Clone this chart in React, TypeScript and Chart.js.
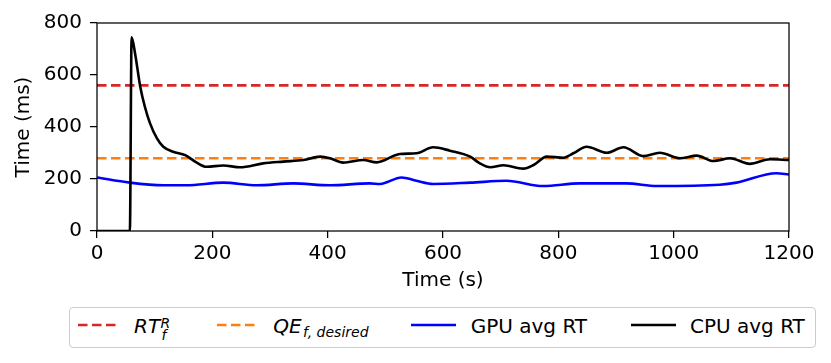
import React, { useEffect, useRef } from "react";
import { Chart, registerables } from "chart.js";

Chart.register(...registerables);

// ---- data ----
const RT_THRESHOLD = 560; // RT_f^R
const QE_DESIRED = 280; // QE_{f,desired}

const X_MIN = 0;
const X_MAX = 1200;
const X_STEP = 200;
const Y_MIN = 0;
const Y_MAX = 800;
const Y_STEP = 200;

const cpuTimes = [
  0, 57, 60, 66, 75, 83, 92, 104, 115, 132, 153, 173, 190, 219, 248, 288, 323,
  358, 387, 404, 427, 462, 485, 525, 554, 583, 612, 647, 664, 682, 705, 739,
  757, 780, 809, 826, 849, 884, 913, 947, 976, 1011, 1040, 1069, 1098, 1132,
  1167, 1200,
];
const cpuValues = [
  0, 0, 745, 683, 555, 478, 414, 356, 324, 305, 292, 263, 247, 252, 245, 260,
  267, 273, 286, 280, 263, 273, 264, 296, 299, 322, 309, 286, 260, 245, 253,
  240, 254, 286, 282, 299, 324, 301, 322, 288, 301, 280, 290, 269, 280, 258,
  276, 273,
];

const gpuTimes = [
  0, 57, 115, 155, 219, 277, 340, 404, 473, 491, 528, 554, 583, 647, 710, 774,
  837, 918, 971, 1080, 1109, 1178, 1200,
];
const gpuValues = [
  206, 186, 176, 176, 186, 176, 183, 176, 183, 181, 206, 193, 181, 186, 193,
  173, 183, 183, 173, 178, 186, 222, 217,
];

const X_TITLE = "Time (s)";
const Y_TITLE = "Time (ms)";

const FONT_FAMILY = "'DejaVu Sans', 'Liberation Sans', sans-serif";

const framePlugin = {
  id: "frame",
  afterDraw(chart: any) {
    const { ctx, chartArea } = chart;
    ctx.save();
    ctx.strokeStyle = "#000";
    ctx.lineWidth = 1.25;
    ctx.strokeRect(
      chartArea.left,
      chartArea.top,
      chartArea.right - chartArea.left,
      chartArea.bottom - chartArea.top
    );
    ctx.restore();
  },
};

function toPoints(xs: number[], ys: number[]) {
  return xs.map((x, i) => ({ x, y: ys[i] }));
}

const LegendLine = ({
  left,
  width,
  color,
  dash,
}: {
  left: number;
  width: number;
  color: string;
  dash?: string;
}) => (
  <svg
    width={width}
    height={6}
    style={{ position: "absolute", left, top: 14.3 }}
  >
    <line
      x1={0}
      y1={3}
      x2={width}
      y2={3}
      stroke={color}
      strokeWidth={2.6}
      strokeDasharray={dash}
    />
  </svg>
);

const txt = (
  left: number,
  baseline: number,
  size: number,
  italic: boolean,
  content: string
) => (
  <span
    style={{
      position: "absolute",
      left,
      top: baseline - 0.846 * size,
      fontSize: size,
      lineHeight: `${size}px`,
      fontStyle: italic ? "italic" : "normal",
      whiteSpace: "pre",
      color: "#000",
    }}
  >
    {content}
  </span>
);

export default function App() {
  const canvasRef = useRef<HTMLCanvasElement | null>(null);

  useEffect(() => {
    if (!canvasRef.current) return;
    const font = { family: FONT_FAMILY, size: 20 };
    const chart = new Chart(canvasRef.current, {
      type: "line",
      data: {
        datasets: [
          {
            label: "CPU avg RT",
            data: toPoints(cpuTimes, cpuValues),
            borderColor: "#000000",
            borderWidth: 2.6,
            pointRadius: 0,
            cubicInterpolationMode: "monotone",
            fill: false,
          },
          {
            label: "GPU avg RT",
            data: toPoints(gpuTimes, gpuValues),
            borderColor: "#0000ff",
            borderWidth: 2.6,
            pointRadius: 0,
            cubicInterpolationMode: "monotone",
            fill: false,
          },
          {
            label: "QE",
            data: [
              { x: X_MIN, y: QE_DESIRED },
              { x: X_MAX, y: QE_DESIRED },
            ],
            borderColor: "#ff7f0e",
            borderWidth: 2.6,
            borderDash: [9.5, 4.5],
            pointRadius: 0,
            fill: false,
          },
          {
            label: "RT",
            data: [
              { x: X_MIN, y: RT_THRESHOLD },
              { x: X_MAX, y: RT_THRESHOLD },
            ],
            borderColor: "#d62728",
            borderWidth: 2.6,
            borderDash: [9.5, 4.5],
            pointRadius: 0,
            fill: false,
          },
        ],
      },
      options: {
        animation: false,
        responsive: true,
        maintainAspectRatio: false,
        layout: { padding: { left: 12, top: 23, right: 42, bottom: 70 } },
        plugins: {
          legend: { display: false },
          tooltip: { enabled: false },
        },
        scales: {
          x: {
            type: "linear",
            min: X_MIN,
            max: X_MAX,
            ticks: {
              stepSize: X_STEP,
              color: "#000",
              font,
              padding: 4,
              maxRotation: 0,
              autoSkip: false,
              callback: (v: any) => String(v),
            },
            grid: {
              drawOnChartArea: false,
              drawTicks: true,
              tickLength: 7,
              color: "#000",
              lineWidth: 1.25,
            },
            border: { display: false },
            title: {
              display: true,
              text: X_TITLE,
              color: "#000",
              font,
              padding: 0,
            },
            afterFit: (s: any) => {
              s.height = 62;
            },
          },
          y: {
            type: "linear",
            min: Y_MIN,
            max: Y_MAX,
            ticks: {
              stepSize: Y_STEP,
              color: "#000",
              font,
              padding: 8,
              callback: (v: any) => String(v),
            },
            grid: {
              drawOnChartArea: false,
              drawTicks: true,
              tickLength: 7,
              color: "#000",
              lineWidth: 1.25,
            },
            border: { display: false },
            title: {
              display: true,
              text: Y_TITLE,
              color: "#000",
              font,
              padding: 0,
            },
            afterFit: (s: any) => {
              s.width = 85;
            },
          },
        },
      } as any,
      plugins: [framePlugin],
    });
    return () => chart.destroy();
  }, []);

  return (
    <div
      style={{
        position: "absolute",
        left: 0,
        top: 0,
        width: 831,
        height: 363,
        background: "#fff",
        fontFamily: FONT_FAMILY,
      }}
    >
      <canvas ref={canvasRef} />
      <div
        style={{
          position: "absolute",
          left: 69,
          top: 307,
          width: 747,
          height: 41,
          border: "1px solid #cccccc",
          borderRadius: 4,
          boxSizing: "border-box",
          background: "#fff",
        }}
      >
        <LegendLine left={8} width={42} color="#d62728" dash="9.5 4.5" />
        {txt(64, 25.3, 20, true, "RT")}
        {txt(90.5, 19.5, 14, true, "R")}
        {txt(91.5, 31.8, 14, true, "f")}

        <LegendLine left={147} width={41} color="#ff7f0e" dash="9.5 4.5" />
        {txt(203.3, 25.3, 20, true, "QE")}
        {txt(233, 28.5, 14, true, "f, desired")}

        <LegendLine left={341} width={45} color="#0000ff" />
        {txt(400.7, 25.3, 20, false, "GPU avg RT")}

        <LegendLine left={561} width={45} color="#000000" />
        {txt(620, 25.3, 20, false, "CPU avg RT")}
      </div>
    </div>
  );
}
